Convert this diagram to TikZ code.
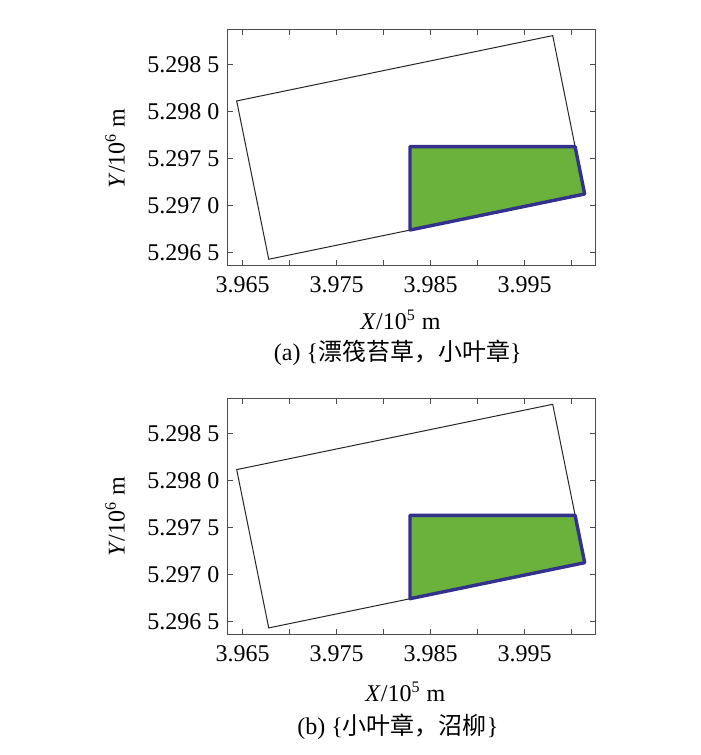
\documentclass[tikz,border=0pt]{standalone}
\usepackage{xcolor}
\usepackage{fontspec}
\setmainfont{Liberation Serif}
\newfontfamily\cjk{Noto Sans CJK SC}
\usepackage{tikz}
\usetikzlibrary{positioning}
\definecolor{marsh}{HTML}{6BB23D}
\definecolor{edgeblue}{HTML}{34318C}
\definecolor{framegray}{HTML}{4D4D4D}

\tikzset{
  frame/.style={draw=framegray, line width=0.6pt},
  tickmark/.style={draw=framegray, line width=0.6pt},
  plotline/.style={draw=black!85, line width=0.5pt},
  zone/.style={fill=marsh, draw=edgeblue, line width=1.7pt, line join=round},
  ticklab/.style={font=\fontsize{12}{14}\selectfont, inner sep=1pt},
  axlab/.style={font=\fontsize{12}{14}\selectfont, inner sep=1pt},
  caption/.style={font=\fontsize{12}{14}\selectfont, inner sep=1pt}
}

\begin{document}
\begin{tikzpicture}[x=4.7pt, y=4.7pt]
  \useasboundingbox (-25.82,-53.44) rectangle (48.65,26.88);
  \foreach \sy/\p/\cap/\xl/\xly/\capy in
      {0/a/{(a) \{{\cjk 漂筏苔草，小叶章}\}}/16.8/-7.16/-10.67,
       -39.22/b/{(b) \{{\cjk 小叶章，沼柳}\}}/17.3/-7.49/-11.21}{
  \begin{scope}[shift={(0,\sy)}]
    % axes frame and inward ticks
    \draw[frame] (-1.6,-1.38) rectangle (37.5,23.7);
    \foreach \i in {0,5,...,35}{
      \draw[tickmark] (\i,-1.38) -- ++(0,0.55);
      \draw[tickmark] (\i,23.7) -- ++(0,-0.55);
    }
    \foreach \j in {0,5,...,20}{
      \draw[tickmark] (-1.6,\j) -- ++(0.55,0);
      \draw[tickmark] (37.5,\j) -- ++(-0.55,0);
    }
    \foreach \i/\t in {0/3.965, 10/3.975, 20/3.985, 30/3.995}
      \node[ticklab] (xt\p\i) at (\i,-3.44) {\t};
    \foreach \j/\t in {0/5.296 5, 5/5.297 0, 10/5.297 5, 15/5.298 0, 20/5.298 5}
      \node[ticklab, anchor=east] (yt\p\j) at (-2.23,\j) {\t};

    % site boundary
    \coordinate (bl\p) at (2.77,-0.70);
    \coordinate (tl\p) at (-0.64,16.14);
    \coordinate (tr\p) at (32.98,23.09);
    \coordinate (br\p) at (36.38,6.24);
    \draw[plotline] (bl\p) -- (tl\p) -- (tr\p) -- (br\p) -- cycle;

    % habitat zone
    \coordinate (gb\p) at (17.8,2.41);
    \coordinate (gt\p) at (17.8,11.28);
    \coordinate (gr\p) at (35.36,11.28);
    \draw[zone] (gb\p) -- (gt\p) -- (gr\p) -- (br\p) -- cycle;

    \node[axlab] (xlab\p) at (\xl,\xly) {\textit{X}/10\textsuperscript{5} m};
    \node[axlab, rotate=90] (ylab\p) at (-13.58,11.1) {\textit{Y}/10\textsuperscript{6} m};
    \node[caption] (cap\p) at (16.5,\capy) {\cap};
  \end{scope}
  }
\end{tikzpicture}
\end{document}
